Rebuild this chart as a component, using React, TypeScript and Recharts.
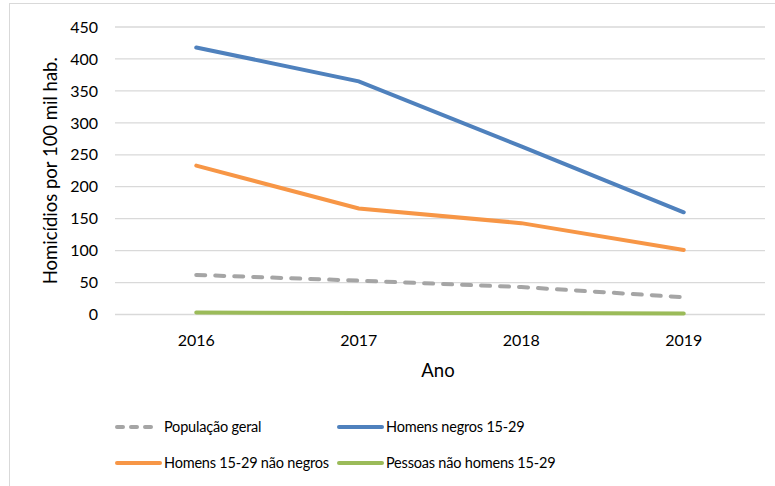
import React from "react";
import { LineChart, Line, XAxis, YAxis, CartesianGrid, Legend, Label } from "recharts";

const years = ["2016", "2017", "2018", "2019"];
const populacaoGeral = [62, 53, 43, 27];
const homensNegros = [418, 365, 263, 160];
const homensNaoNegros = [233, 166, 143, 101];
const pessoasNaoHomens = [3, 2.5, 2.5, 1.5];
const yTicks = [0, 50, 100, 150, 200, 250, 300, 350, 400, 450];

const seriesNames = {
  pop: "População geral",
  negros: "Homens negros 15-29",
  naoNegros: "Homens 15-29 não negros",
  naoHomens: "Pessoas não homens 15-29",
};

const data = years.map((y, i) => ({
  year: y,
  pop: populacaoGeral[i],
  negros: homensNegros[i],
  naoNegros: homensNaoNegros[i],
  naoHomens: pessoasNaoHomens[i],
}));

const FONT = "Lato, 'Open Sans', sans-serif";
const GRID = "#d9d9d9";

const legendSlots: Record<string, { left: number; top: number }> = {
  [seriesNames.pop]: { left: 115, top: 17 },
  [seriesNames.negros]: { left: 337, top: 17 },
  [seriesNames.naoNegros]: { left: 115, top: 53 },
  [seriesNames.naoHomens]: { left: 337, top: 53 },
};

const LegendContent = (props: any) => {
  const payload = props.payload || [];
  return (
    <div style={{ position: "relative", width: 775, height: 70, fontFamily: FONT, fontSize: 14.5, letterSpacing: -0.2, color: "#000" }}>
      {payload.map((p: any) => {
        const slot = legendSlots[p.value];
        if (!slot) return null;
        const dashed = p.payload && p.payload.strokeDasharray;
        return (
          <div key={p.value} style={{ position: "absolute", left: slot.left, top: slot.top - 10, height: 20, display: "flex", alignItems: "center", whiteSpace: "nowrap" }}>
            <svg width={47} height={20} style={{ display: "block" }}>
              <line x1={2} y1={10} x2={dashed ? 41 : 45} y2={10} stroke={p.color} strokeWidth={4} strokeLinecap="round" strokeDasharray={dashed ? "6 8" : undefined} />
            </svg>
            <span style={{ marginLeft: 2, lineHeight: "20px" }}>{p.value}</span>
          </div>
        );
      })}
    </div>
  );
};

export default function App() {
  return (
    <div style={{ position: "absolute", left: 0, top: 0, width: 775, height: 486, overflow: "hidden", background: "#fff" }}>
      <div style={{ position: "absolute", left: 9, top: 3, width: 820, height: 600, border: "1px solid #d9d9d9", boxSizing: "border-box" }} />
      <LineChart width={775} height={486} data={data} margin={{ top: 27, right: 10, left: 0, bottom: 41.5 }} style={{ position: "absolute", left: 0, top: 0 }}>
        <CartesianGrid vertical={false} stroke={GRID} strokeWidth={1.3} />
        <XAxis
          dataKey="year"
          scale="band"
          axisLine={false}
          tickLine={false}
          tickSize={6}
          tickMargin={14}
          height={60}
          tick={{ fill: "#000", fontSize: 16, fontFamily: FONT }}
          interval={0}
        >
          <Label
            content={(p: any) => {
              const vb = p.viewBox || {};
              return (
                <text x={vb.x + vb.width / 2 - 2} y={vb.y + 62} textAnchor="middle" fill="#000" fontSize={18.5} fontFamily={FONT}>
                  Ano
                </text>
              );
            }}
          />
        </XAxis>
        <YAxis
          width={115}
          domain={[0, 450]}
          ticks={yTicks}
          axisLine={false}
          tickLine={false}
          tickSize={6}
          tickMargin={11}
          tick={{ fill: "#000", fontSize: 16, fontFamily: FONT }}
          interval={0}
        >
          <Label
            content={(p: any) => {
              const vb = p.viewBox || {};
              const cx = vb.x + 50;
              const cy = vb.y + vb.height / 2;
              return (
                <text x={cx} y={cy} transform={`rotate(-90, ${cx}, ${cy})`} textAnchor="middle" dominantBaseline="central" fill="#000" fontSize={18.5} fontFamily={FONT}>
                  Homicídios por 100 mil hab.
                </text>
              );
            }}
          />
        </YAxis>
        <Legend
          verticalAlign="bottom"
          content={<LegendContent />}
          wrapperStyle={{ top: 410, left: 0, width: 775, height: 70 }}
        />
        <Line name={seriesNames.pop} dataKey="pop" stroke="#a5a5a5" strokeWidth={4} strokeDasharray="9 10" strokeLinecap="round" dot={false} activeDot={false} isAnimationActive={false} />
        <Line name={seriesNames.negros} dataKey="negros" stroke="#4f81bd" strokeWidth={4} strokeLinecap="round" dot={false} activeDot={false} isAnimationActive={false} />
        <Line name={seriesNames.naoNegros} dataKey="naoNegros" stroke="#f79646" strokeWidth={4} strokeLinecap="round" dot={false} activeDot={false} isAnimationActive={false} />
        <Line name={seriesNames.naoHomens} dataKey="naoHomens" stroke="#9bbb59" strokeWidth={4} strokeLinecap="round" dot={false} activeDot={false} isAnimationActive={false} />
      </LineChart>
    </div>
  );
}
